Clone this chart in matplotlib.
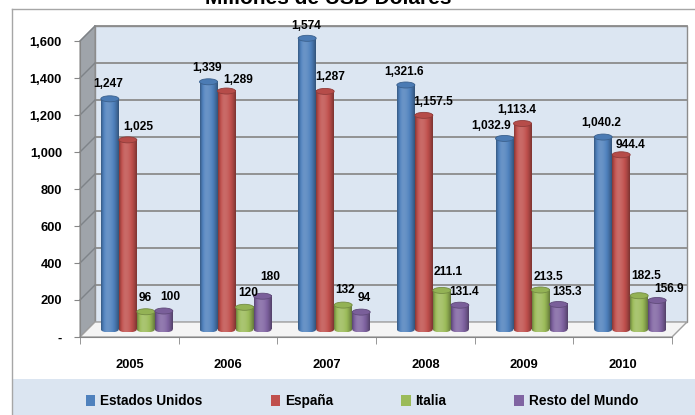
import numpy as np
import matplotlib
matplotlib.use("Agg")
import matplotlib.pyplot as plt
from matplotlib.patches import Rectangle, Ellipse, Polygon, Patch
from matplotlib.ticker import FixedLocator, FuncFormatter
from matplotlib.colors import to_rgb

# ---------------- data ----------------
years = ["2005", "2006", "2007", "2008", "2009", "2010"]
series_names = ["Estados Unidos", "España", "Italia", "Resto del Mundo"]
estados_unidos = [1247, 1339, 1574, 1321.6, 1032.9, 1040.2]
espana = [1025, 1289, 1287, 1157.5, 1113.4, 944.4]
italia = [96, 120, 132, 211.1, 213.5, 182.5]
resto_mundo = [100, 180, 94, 131.4, 135.3, 156.9]
decimals = [0, 0, 0, 1, 1, 1]
y_ticks = [0, 200, 400, 600, 800, 1000, 1200, 1400, 1600]
title = "Millones de USD Dolares"

series_values = [estados_unidos, espana, italia, resto_mundo]
colors = ["#4F81BD", "#C0504D", "#9BBB59", "#8064A2"]

# label nudges in pixels (style)
label_dx = [[-1.5, -1, -1, -2, -13, -2],
            [10, 12, 5, 9, -6, 9],
            [-1, 3.5, 2, 6, 7.5, 7],
            [6, 8, 3, 4, 8.5, 12]]
label_dy = [[15, 13.5, 12, 13.3, 12, 13.7],
            [13, 11, 14, 13.7, 13.5, 10],
            [14, 14.7, 15, 18.5, 13.3, 19.7],
            [14, 19, 14, 13.5, 12.8, 11.5]]

FONT = ["Liberation Sans", "DejaVu Sans"]
plt.rcParams["font.family"] = FONT

W, H = 695, 415
fig = plt.figure(figsize=(W / 100, H / 100), dpi=100)
fig.patch.set_facecolor("white")

# front plane of the plot (pixels)
x0p, x1p, ytop, ybot = 80, 672, 41, 337
ax = fig.add_axes([x0p / W, 1 - ybot / H, (x1p - x0p) / W, (ybot - ytop) / H])
ncat = len(years)
ax.set_xlim(0, ncat)
ax.set_ylim(0, 1600)
ax.patch.set_visible(False)

px_x = (x1p - x0p) / ncat          # pixels per category
px_y = (ybot - ytop) / 1600.0      # pixels per unit
depth = 15.0
DX = depth / px_x
DY = depth / px_y

# frame of chart area
fig.add_artist(plt.Line2D([12 / W, 12 / W], [0, 1 - 9 / H], color="#A6A6A6", lw=1))
fig.add_artist(plt.Line2D([12 / W, 1], [1 - 9 / H, 1 - 9 / H], color="#A6A6A6", lw=1))
# legend band
fig.add_artist(Rectangle((12.5 / W, 0), 1, (H - 379) / H, transform=fig.transFigure,
                         facecolor="#DBE5F1", edgecolor="none", zorder=0))

# title (cut off at top as in reference)
fig.text(328 / W, 1 - 4 / H, title, ha="center", va="baseline",
         fontsize=15, fontweight="bold")

# ---------- 3D walls ----------
back = Rectangle((DX, DY), ncat, 1600, facecolor="#DCE6F2", edgecolor="#8C8C8C",
                 lw=1, zorder=0, clip_on=False)
ax.add_patch(back)
side = Polygon([(0, 0), (0, 1600), (DX, 1600 + DY), (DX, DY)], closed=True,
               facecolor="#9FA4AA", edgecolor="#8C8C8C", lw=0.8, zorder=0.5, clip_on=False)
ax.add_patch(side)
floor = Polygon([(0, 0), (ncat, 0), (ncat + DX, DY), (DX, DY)], closed=True,
                facecolor="#F4F4F4", edgecolor="#A0A0A0", lw=1, zorder=0.6, clip_on=False)
ax.add_patch(floor)
for v in y_ticks[1:]:
    ax.plot([DX, ncat + DX], [v + DY, v + DY], color="#8C8C8C", lw=1.3, zorder=0.4, clip_on=False)
    ax.plot([0, DX], [v, v + DY], color="#7E8388", lw=1, zorder=0.7, clip_on=False)


# ---------- cylinders ----------
def shade(rgb, f):
    rgb = np.array(rgb)
    if f >= 0:
        return rgb + (1 - rgb) * f
    return rgb * (1 + f)


N = 40
t = np.linspace(0, 1, N)
prof = np.where(t < 0.35, 0.15 - 0.45 * ((0.35 - t) / 0.35) ** 2,
                0.15 - 0.5 * ((t - 0.35) / 0.65) ** 2)

bw = 18.0 / px_x
eh = 6.0 / px_y
for s, (vals, col) in enumerate(zip(series_values, colors)):
    base_rgb = to_rgb(col)
    grad = np.array([[shade(base_rgb, f) for f in prof]])
    for i, v in enumerate(vals):
        xc = i + 0.5 + (s - 1.5) * bw + DX / 2
        xl = xc - bw / 2
        yb = DY / 2
        z = 3 + s * 0.01
        # bottom ellipse
        im = ax.imshow(grad, extent=(xl, xl + bw, yb - eh / 2, yb + eh / 2),
                       aspect="auto", interpolation="bilinear", zorder=z, clip_on=True)
        el = Ellipse((xc, yb), bw, eh, transform=ax.transData)
        im.set_clip_path(el)
        # body
        ax.imshow(grad, extent=(xl, xl + bw, yb, yb + v), aspect="auto",
                  interpolation="bilinear", zorder=z, clip_on=False)
        # top cap
        ax.add_patch(Ellipse((xc, yb + v), bw, eh, facecolor=shade(base_rgb, -0.05),
                             edgecolor=shade(base_rgb, -0.25), lw=0.6, zorder=z + 0.005,
                             clip_on=False))
        txt = f"{v:,.{decimals[i]}f}"
        ax.annotate(txt, xy=(xc, yb + v), xytext=(label_dx[s][i], label_dy[s][i]),
                    textcoords="offset pixels", ha="center", va="center",
                    fontsize=8.6, fontweight="bold", zorder=10, annotation_clip=False)

ax.set_xlim(0, ncat)
ax.set_ylim(0, 1600)

# ---------- axes ----------
for sp in ["top", "right"]:
    ax.spines[sp].set_visible(False)
ax.spines["left"].set_color("#868686")
ax.spines["bottom"].set_color("#868686")
ax.spines["left"].set_zorder(2)
ax.spines["bottom"].set_zorder(2)

ax.yaxis.set_major_locator(FixedLocator(y_ticks))
ax.yaxis.set_major_formatter(FuncFormatter(lambda v, p: "-" if v == 0 else f"{v:,.0f}"))
ax.tick_params(axis="y", length=4, color="#868686", pad=9, labelsize=9.3)
for lab in ax.get_yticklabels():
    lab.set_fontweight("bold")

ax.set_xticks(np.arange(ncat) + 0.5)
ax.set_xticklabels(years, fontweight="bold", fontsize=9.3)
ax.set_xticks(np.arange(ncat + 1), minor=True)
ax.tick_params(axis="x", which="major", length=0, pad=16)
ax.tick_params(axis="x", which="minor", length=5, color="#868686")

# ---------- legend ----------
handles = [Patch(facecolor=c, edgecolor="none") for c in colors]
fig.legend(handles, series_names, loc="center", bbox_to_anchor=(362 / W, 1 - 401 / H),
           ncol=4, frameon=False, handlelength=0.7, handleheight=0.85,
           handletextpad=0.35, columnspacing=5.0,
           prop={"weight": "bold", "size": 9.8})

fig.savefig("out.png", dpi=100)
